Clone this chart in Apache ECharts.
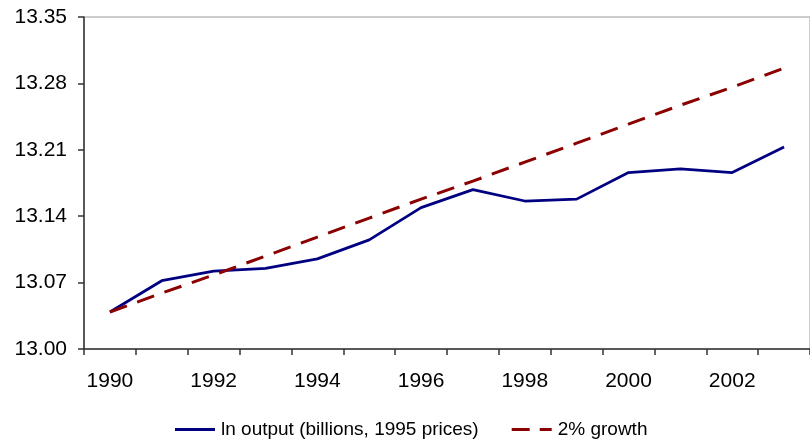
<!DOCTYPE html>
<html>
<head>
<meta charset="utf-8">
<script src="https://cdn.jsdelivr.net/npm/echarts@6/dist/echarts.min.js"></script>
<style>
  html, body { margin: 0; padding: 0; background: #fff; }
  #chart { width: 810px; height: 444px; }
</style>
</head>
<body>
<div id="chart"></div>
<script>
// data
const years = ['1990', '1991', '1992', '1993', '1994', '1995', '1996',
  '1997', '1998', '1999', '2000', '2001', '2002', '2003']
const lnOutput = [13.039, 13.072, 13.082, 13.085, 13.095, 13.115, 13.149,
  13.168, 13.156, 13.158, 13.186, 13.190, 13.186, 13.213]
const growth2 = [13.039, 13.059, 13.078, 13.098, 13.118, 13.138, 13.158,
  13.177, 13.197, 13.217, 13.237, 13.257, 13.276, 13.296]
const seriesNames = ['ln output (billions, 1995 prices)', '2% growth']

const fontFamily = '"Liberation Sans", Arial, sans-serif'

const chart = echarts.init(document.getElementById('chart'))

const option = {
  animation: false,
  textStyle: { fontFamily: fontFamily, color: '#000' },
  grid: {
    left: 84,
    top: 17,
    right: -6.5,
    bottom: 95,
    show: true,
    borderColor: '#9a9a9a',
    borderWidth: 1
  },
  legend: {
    left: 175,
    top: 420,
    padding: 0,
    itemWidth: 40,
    itemHeight: 3,
    itemGap: 33,
    textStyle: { fontSize: 19, color: '#000', fontFamily: fontFamily, padding: [0, 0, 0, 1] },
    data: [
      { name: seriesNames[0], icon: 'rect', itemStyle: { color: '#000080' } },
      { name: seriesNames[1], icon: 'path://M0,0H18V3H0Z M28,0H40V3H28Z', itemStyle: { color: '#8b0000' } }
    ]
  },
  xAxis: {
    type: 'category',
    data: years,
    boundaryGap: true,
    axisLine: { lineStyle: { color: '#333', width: 1.5 } },
    axisTick: { show: true, interval: 0, length: 6, lineStyle: { color: '#333', width: 1.5 } },
    axisLabel: { interval: 1, fontSize: 21, color: '#000', margin: 22, fontFamily: fontFamily }
  },
  yAxis: {
    type: 'value',
    min: 13.0,
    max: 13.35,
    interval: 0.07,
    axisLine: { show: true, lineStyle: { color: '#333', width: 1.5 } },
    axisTick: { show: true, length: 6, lineStyle: { color: '#333', width: 1.5 } },
    splitLine: { show: false },
    axisLabel: {
      fontSize: 21,
      color: '#000',
      margin: 17,
      fontFamily: fontFamily,
      formatter: v => v.toFixed(2)
    }
  },
  series: [
    {
      name: seriesNames[0],
      type: 'line',
      data: lnOutput,
      symbol: 'none',
      lineStyle: { color: '#000080', width: 2.75 },
      itemStyle: { color: '#000080' }
    },
    {
      name: seriesNames[1],
      type: 'line',
      data: growth2,
      symbol: 'none',
      lineStyle: { color: '#8b0000', width: 3, type: [18, 11] },
      itemStyle: { color: '#8b0000' }
    }
  ]
}

chart.setOption(option)
</script>
</body>
</html>
